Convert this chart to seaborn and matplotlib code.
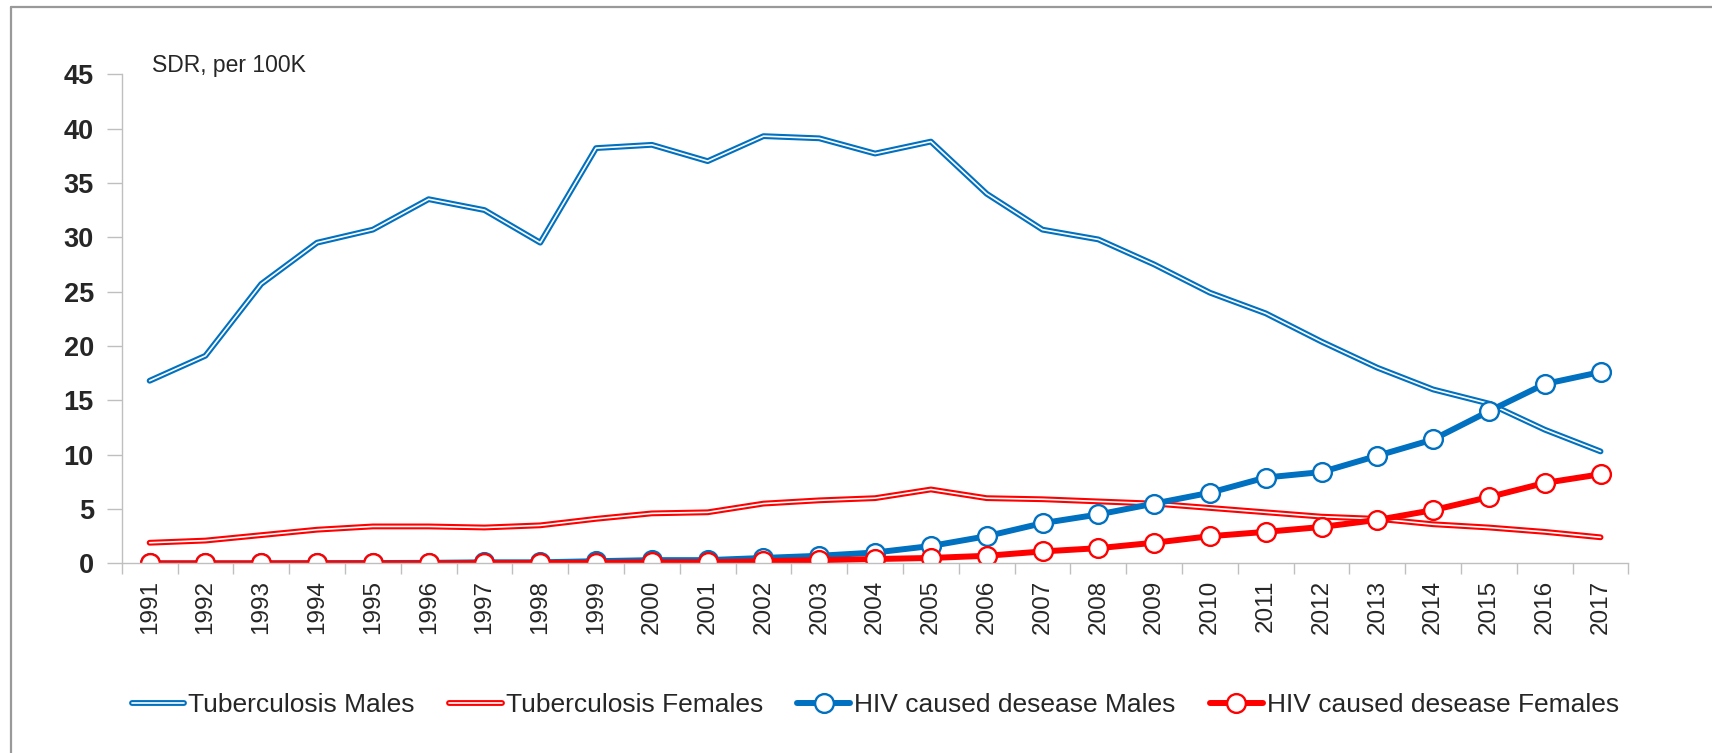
import matplotlib
matplotlib.use("Agg")
import matplotlib.pyplot as plt
import matplotlib.patheffects as pe
from matplotlib.lines import Line2D
import seaborn as sns
import pandas as pd
import numpy as np

# data
years = list(range(1991, 2018))
tb_males = [16.8, 19.1, 25.7, 29.5, 30.7, 33.5, 32.5, 29.5, 38.2, 38.5, 37.0, 39.3, 39.1, 37.7,
            38.8, 34.0, 30.7, 29.8, 27.5, 24.9, 23.0, 20.4, 18.0, 16.0, 14.7, 12.3, 10.3]
tb_females = [1.9, 2.1, 2.6, 3.1, 3.4, 3.4, 3.3, 3.5, 4.1, 4.6, 4.7, 5.5, 5.8, 6.0,
              6.8, 6.0, 5.9, 5.7, 5.5, 5.1, 4.7, 4.3, 4.1, 3.6, 3.3, 2.9, 2.4]
hiv_males = [0.0, 0.0, 0.0, 0.02, 0.03, 0.05, 0.1, 0.1, 0.2, 0.3, 0.3, 0.5, 0.7, 1.0,
             1.6, 2.5, 3.7, 4.5, 5.5, 6.5, 7.9, 8.4, 9.9, 11.4, 14.0, 16.5, 17.6]
hiv_females = [0.0, 0.0, 0.0, 0.0, 0.0, 0.0, 0.02, 0.03, 0.05, 0.1, 0.1, 0.2, 0.3, 0.4,
               0.5, 0.7, 1.1, 1.4, 1.9, 2.5, 2.9, 3.35, 4.0, 4.9, 6.1, 7.4, 8.2]

df = pd.DataFrame({"year": years, "tb_m": tb_males, "tb_f": tb_females,
                   "hiv_m": hiv_males, "hiv_f": hiv_females})

sns.set_style("white")
plt.rcParams['font.family'] = ['Liberation Sans', 'DejaVu Sans']

blue = "#0070C0"
red = "#FF0000"
grey = "#BFBFBF"

fig = plt.figure(figsize=(17.12, 7.53), dpi=100)
ax = fig.add_axes([0.0711, 0.2518, 0.9512 - 0.0711, 0.9015 - 0.2518])

# double lines: thick coloured stroke with thin white core
sns.lineplot(data=df, x="year", y="tb_m", ax=ax, color="white", linewidth=1.2,
             label="Tuberculosis Males", solid_capstyle="round",
             path_effects=[pe.Stroke(linewidth=4.2, foreground=blue), pe.Normal()])
sns.lineplot(data=df, x="year", y="tb_f", ax=ax, color="white", linewidth=1.2,
             label="Tuberculosis Females", solid_capstyle="round",
             path_effects=[pe.Stroke(linewidth=4.2, foreground=red), pe.Normal()])
sns.lineplot(data=df, x="year", y="hiv_m", ax=ax, color=blue, linewidth=4.3,
             marker="o", markersize=13.5, markerfacecolor="white", markeredgecolor=blue,
             markeredgewidth=1.7, label="HIV caused desease Males")
sns.lineplot(data=df, x="year", y="hiv_f", ax=ax, color=red, linewidth=4.3,
             marker="o", markersize=13.5, markerfacecolor="white", markeredgecolor=red,
             markeredgewidth=1.7, label="HIV caused desease Females")

ax.set_xlim(years[0] - 0.5, years[-1] + 0.5)
ax.set_ylim(0, 45)
ax.set_yticks(range(0, 46, 5))
ax.set_xticks(years)
ax.set_xticks([y - 0.5 for y in years] + [years[-1] + 0.5], minor=True)
ax.set_xticklabels([str(y) for y in years], rotation=90, fontsize=17.5)
ax.set_xlabel("")
ax.set_ylabel("")
for lab in ax.get_yticklabels():
    lab.set_fontweight("bold")
    lab.set_fontsize(19.5)

ax.tick_params(axis="x", which="major", length=0, pad=12)
ax.tick_params(axis="x", which="minor", length=8, width=1, color=grey, direction="out", bottom=True)
ax.tick_params(axis="y", which="major", length=11, width=1, color=grey, direction="out", left=True, pad=9)

for s in ["top", "right"]:
    ax.spines[s].set_visible(False)
for s in ["left", "bottom"]:
    ax.spines[s].set_color(grey)
    ax.spines[s].set_linewidth(1)

fig.text(0.0888, 0.9044, "SDR, per 100K", fontsize=16.5, va="baseline", ha="left")

leg = ax.legend(loc="center", bbox_to_anchor=(0.5, (1 - 705 / 753 - 0.2518) / (0.9015 - 0.2518)),
                ncol=4, frameon=False, fontsize=19, handlelength=2.0, handletextpad=0.15,
                columnspacing=1.3)

# outer frame (top and left edges visible)
fig.add_artist(Line2D([0.0064, 0.0064], [0, 0.9907], color="#999999", lw=1.6, transform=fig.transFigure))
fig.add_artist(Line2D([0.0064, 1.0], [0.9907, 0.9907], color="#999999", lw=1.6, transform=fig.transFigure))

fig.savefig("out.png", dpi=100)
